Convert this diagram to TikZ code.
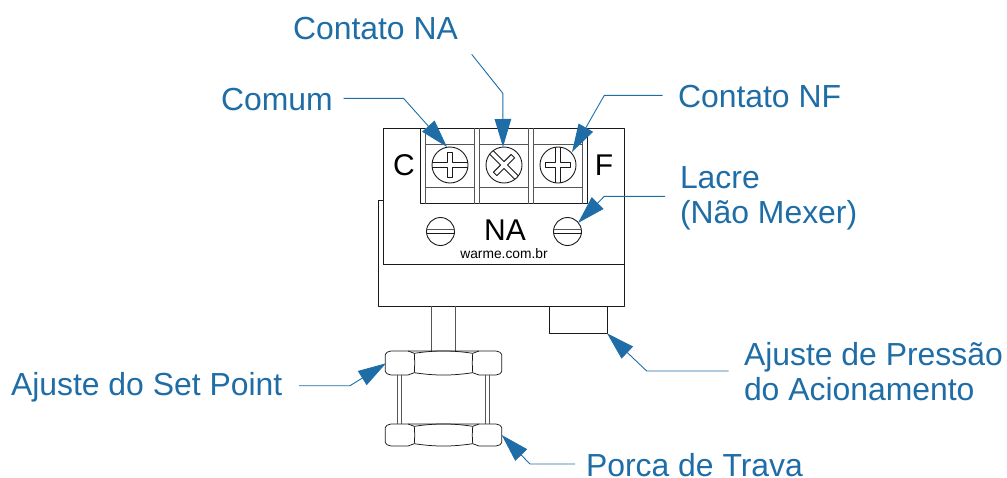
\documentclass[tikz,border=0pt]{standalone}
\usepackage{fontspec}
\setmainfont{Liberation Sans}
\usetikzlibrary{arrows.meta}
\definecolor{lblue}{HTML}{1F6DA6}
\definecolor{lline}{HTML}{1A1A1A}
\definecolor{gline}{HTML}{555555}
\tikzset{
  part/.style={draw=lline,line width=0.9pt,line cap=butt,line join=round},
  nutline/.style={draw=lline,line width=0.75pt,line cap=butt,line join=round},
  gpart/.style={draw=gline,line width=1pt,line cap=butt,line join=round},
  lab/.style={text=lblue,inner sep=0pt,outer sep=0pt,anchor=base west,font=\fontsize{31.9}{35.5}\selectfont},
  lab2/.style={text=lblue,inner sep=0pt,outer sep=0pt,anchor=west,align=left,font=\fontsize{31.9}{35}\selectfont},
  leader/.style={draw=lblue,line width=0.9pt,-{Triangle[length=28pt,width=16.5pt,fill=lblue]}},
  blk/.style={text=black,inner sep=0pt,font=\fontsize{30}{30}\selectfont},
  screw/.style={circle,draw=lline,line width=0.9pt,minimum size=36pt,inner sep=0pt},
  sscrew/.style={circle,draw=lline,line width=0.9pt,minimum size=28pt,inner sep=0pt}
}
\begin{document}
\begin{tikzpicture}[x=1pt,y=-1pt]
\useasboundingbox (0,0) rectangle (1007,477);
% body
\draw[part] (383,264) -- (383,128) -- (624,128) -- (624,306) -- (378,306) -- (378,200) -- (383,200);
\draw[part] (383,264) -- (624,264);
% terminal block
\draw[part] (420,128) -- (420,203.5) -- (587,203.5) -- (587,128);
\foreach \x in {425,474.5,479.5,528,533,582}{\draw[gpart] (\x,128) -- (\x,203.5);}
\foreach \a/\b in {425/474.5,479.5/528,533/582}{
  \draw[gpart] (\a,144) -- (\b,144);
  \draw[gpart] (\a,187) -- (\b,187);
}
% screws
\node[screw] (s1) at (450,165) {};
\node[screw] (s2) at (504,165) {};
\node[screw] (s3) at (558,165) {};
\draw[part,shift={(450,165)}] (-17.7,-2.6) -- (-2.2,-2.6) -- (-2.2,-12.5) -- (2.2,-12.5) -- (2.2,-2.6) -- (17.7,-2.6);
\draw[part,shift={(450,165)}] (-17.7,2.9) -- (-2.2,2.9) -- (-2.2,12.5) -- (2.2,12.5) -- (2.2,2.9) -- (17.7,2.9);
\draw[part,shift={(504,165)},rotate=45] (-2.4,-17.7) -- (-2.4,-2.4) -- (-12.5,-2.4) -- (-12.5,2.4) -- (-2.4,2.4) -- (-2.4,17.7);
\draw[part,shift={(504,165)},rotate=45] (2.4,-17.7) -- (2.4,-2.4) -- (12.5,-2.4) -- (12.5,2.4) -- (2.4,2.4) -- (2.4,17.7);
\draw[part,shift={(558,165)}] (-2.4,-17.7) -- (-2.4,-2.4) -- (-12.5,-2.4) -- (-12.5,2.6) -- (-2.4,2.6) -- (-2.4,17.7);
\draw[part,shift={(558,165)}] (2.4,-17.7) -- (2.4,-2.4) -- (12.5,-2.4) -- (12.5,2.6) -- (2.4,2.6) -- (2.4,17.7);
\node[sscrew] (s4) at (440.5,231.5) {};
\node[sscrew] (s5) at (567.5,231.5) {};
\draw[gpart] (426.5,229.7) -- (454.5,229.7) (553.5,229.7) -- (581.5,229.7);
\draw[part] (426.5,233.5) -- (454.5,233.5) (553.5,233.5) -- (581.5,233.5);
% texts
\node[blk] (c) at (404,165.5) {C};
\node[blk] (f) at (604,165.5) {F};
\node[blk] (na) at (505,230.5) {NA};
\node[text=black,inner sep=0pt,font=\fontsize{13.8}{15}\selectfont] (w) at (504,254) {warme.com.br};
% knob and shaft
\draw[part] (549,306) -- (549,333) -- (607,333) -- (607,306);
\draw[gpart] (431,306) -- (431,351) (455.5,306) -- (455.5,351);
% nuts
\foreach \t/\b in {351/375,424/446}{
  \draw[nutline,fill=white] (391,\t) -- (496,\t) .. controls (499,\t+0.5) and (501.5,\t+1.5) .. (501.7,\t+3.5) -- (501.7,\b-3.5) .. controls (501.5,\b-1.5) and (499,\b-0.5) .. (496,\b) -- (479,\b) -- (472.7,\b-2.3) .. controls (452,\b+0.8) and (435,\b+0.8) .. (414.3,\b-2.3) -- (408,\b) -- (391,\b) .. controls (388,\b-0.5) and (385.5,\b-1.5) .. (385.3,\b-3.5) -- (385.3,\t+3.5) .. controls (385.5,\t+1.5) and (388,\t+0.5) .. (391,\t) -- cycle;
  \draw[nutline] (408,\t) -- (414.3,\t+2.3) .. controls (435,\t-0.8) and (452,\t-0.8) .. (472.7,\t+2.3) -- (479,\t);
  \draw[nutline] (414.3,\t+2.3) .. controls (414.8,\t+8) and (414.8,\b-8) .. (414.3,\b-2.3);
  \draw[nutline] (472.7,\t+2.3) .. controls (472.2,\t+8) and (472.2,\b-8) .. (472.7,\b-2.3);
}
\draw[gpart] (397.5,375) -- (397.5,424) (401.5,375) -- (401.5,424) (485.5,375) -- (485.5,424) (489.5,375) -- (489.5,424);
% labels
\node[lab] (lna) at (293,39.8) {Contato NA};
\node[lab] (lcm) at (221,110) {Comum};
\node[lab] (lnf) at (678,107.3) {Contato NF};
\node[lab2] (llc) at (680,198.5) {Lacre\\(Não Mexer)};
\node[lab2] (lap) at (744,371.7) {Ajuste de Pressão\\do Acionamento};
\node[lab] (lsp) at (11,395) {Ajuste do Set Point};
\node[lab] (lpt) at (586,476) {Porca de Trava};
% leader anchors
\coordinate (a1) at (343.5,98.3); \coordinate (t1) at (447,147);
\coordinate (a2) at (471.7,54.3); \coordinate (t2) at (503,147);
\coordinate (a3) at (662.5,95.3); \coordinate (t3) at (572,152);
\coordinate (a4) at (665,196.3); \coordinate (t4) at (578,223);
\coordinate (a5) at (728.7,371); \coordinate (t5) at (607,333.3);
\coordinate (a6) at (299,385.7); \coordinate (t6) at (386,363.3);
\coordinate (a7) at (575,464); \coordinate (t7) at (501.7,435);
\draw[leader] (a1) -- (403.5,98.3) -- (t1);
\draw[leader] (a2) -- (502.8,93.3) -- (t2);
\draw[leader] (a3) -- (604.3,95.3) -- (t3);
\draw[leader] (a4) -- (604.3,196.3) -- (t4);
\draw[leader] (a5) -- (646.7,371) -- (t5);
\draw[leader] (a6) -- (350,385.7) -- (t6);
\draw[leader] (a7) -- (530,464) -- (t7);
\end{tikzpicture}
\end{document}
